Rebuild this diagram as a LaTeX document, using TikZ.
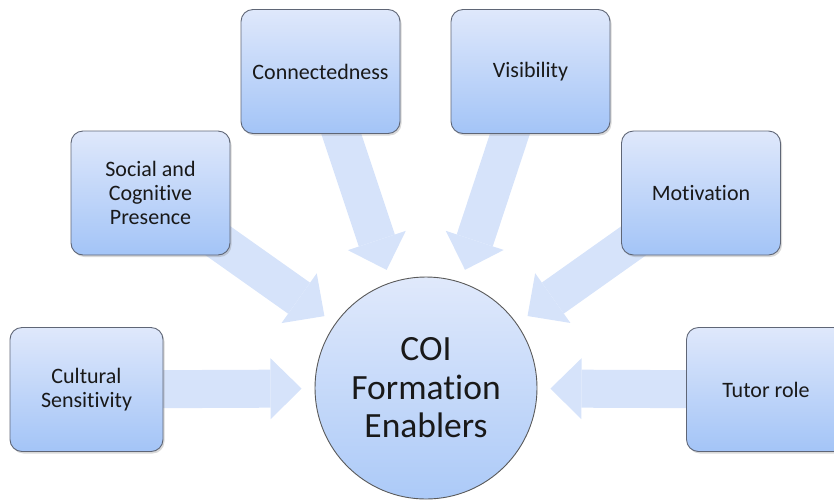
\documentclass[tikz,border=0pt]{standalone}
\usepackage{fontspec}
\setmainfont{Carlito}[Ligatures=NoCommon]
\usetikzlibrary{arrows.meta,shadows}
\pgfdeclarelayer{background}
\pgfsetlayers{background,main}
\definecolor{boxtop}{RGB}{223,232,251}
\definecolor{boxbot}{RGB}{163,196,247}
\definecolor{hubtop}{RGB}{224,233,251}
\definecolor{hubbot}{RGB}{172,202,248}
\definecolor{edge}{RGB}{95,102,118}
\definecolor{flow}{RGB}{214,227,250}
\definecolor{ink}{RGB}{25,25,25}
\tikzset{
  factor/.style={draw=edge, line width=0.9pt, rounded corners=12pt,
    top color=boxtop, bottom color=boxbot,
    minimum width=159pt, minimum height=124pt, inner sep=0pt,
    align=center, text=ink, font=\fontsize{22}{24}\selectfont,
    drop shadow={shadow xshift=1.5pt, shadow yshift=-2pt, opacity=0.3}},
  hub/.style={circle, draw=gray!70!black, line width=0.9pt,
    top color=hubtop, bottom color=hubbot,
    minimum size=222pt, inner sep=0pt,
    align=center, text=ink, font=\fontsize{35.5}{38.5}\selectfont},
  feed/.style={draw=flow, line width=38pt, shorten >=13pt,
    -{Triangle[length=31pt,width=61pt,line width=0pt]}}
}
\begin{document}
\begin{tikzpicture}[x=1pt,y=-1pt]
\useasboundingbox (0,0) rectangle (834,499);
\clip (0,0) rectangle (834,499);

% central hub
\node[hub] (coi) at (426,388) {COI\\Formation\\Enablers};

% the six enablers around it
\node[factor, minimum width=153pt] (cult) at (86.5,389.5) {Cultural\\Sensitivity};
\node[factor] (soc)  at (150.5,193)  {Social and\\Cognitive\\Presence};
\node[factor] (conn) at (320.5,71.5) {Connectedness};
\node[factor] (vis)  at (530.5,71.5) {Visibility};
\node[factor] (mot)  at (701,193)    {Motivation};
\node[factor] (tut)  at (766,389.5)  {Tutor role};

% block arrows feeding into the hub, behind the boxes
\begin{pgfonlayer}{background}
  \foreach \n in {cult,soc,conn,vis,mot,tut}
    \draw[feed] (\n.center) -- (coi);
\end{pgfonlayer}
\end{tikzpicture}
\end{document}
